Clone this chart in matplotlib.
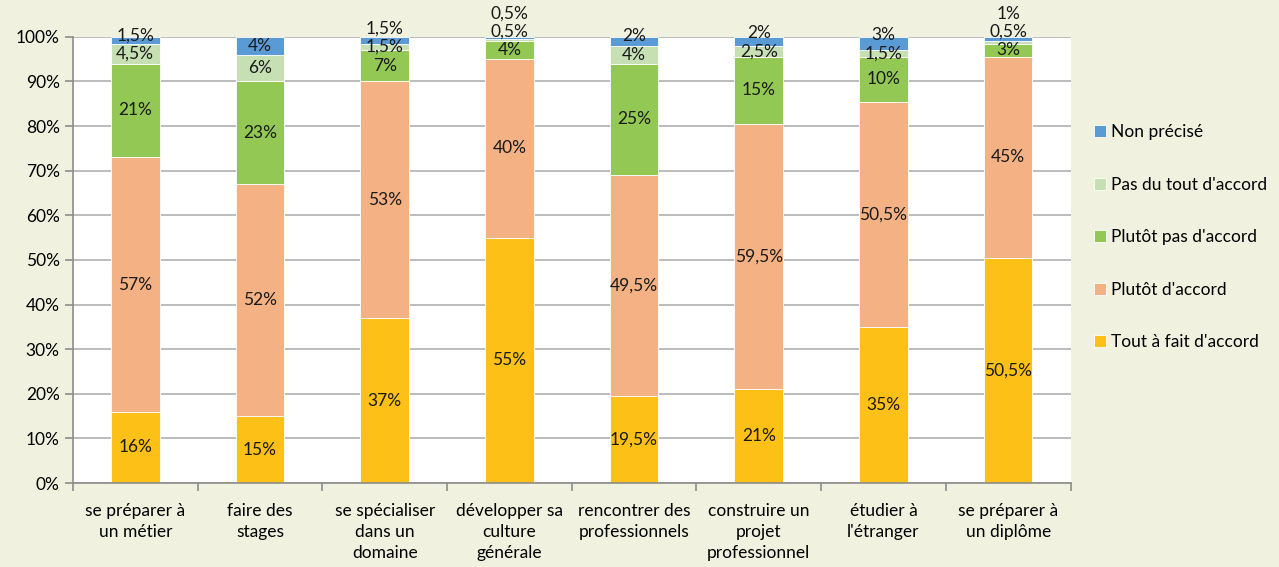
import matplotlib.pyplot as plt
import numpy as np

categories = ["se préparer à\nun métier", "faire des\nstages", "se spécialiser\ndans un\ndomaine",
              "développer sa\nculture\ngénérale", "rencontrer des\nprofessionnels",
              "construire un\nprojet\nprofessionnel", "étudier à\nl'étranger", "se préparer à\nun diplôme"]

tout_a_fait = [16, 15, 37, 55, 19.5, 21, 35, 50.5]
plutot_accord = [57, 52, 53, 40, 49.5, 59.5, 50.5, 45]
plutot_pas = [21, 23, 7, 4, 25, 15, 10, 3]
pas_du_tout = [4.5, 6, 1.5, 0.5, 4, 2.5, 1.5, 0.5]
non_precise = [1.5, 4, 1.5, 0.5, 2, 2, 3, 1]

series = [
    ("Tout à fait d'accord", tout_a_fait, "#FCC016"),
    ("Plutôt d'accord", plutot_accord, "#F4B183"),
    ("Plutôt pas d'accord", plutot_pas, "#92C853"),
    ("Pas du tout d'accord", pas_du_tout, "#C6E0B4"),
    ("Non précisé", non_precise, "#5B9BD5"),
]

plt.rcParams['font.family'] = ['Lato', 'DejaVu Sans']
bg = "#F0F2DF"

fig = plt.figure(figsize=(12.79, 5.67), dpi=100, facecolor=bg)
ax = fig.add_axes([0.057, 0.148, 0.78, 0.787])
ax.set_facecolor("white")

x = np.arange(len(categories))
bottom = np.zeros(len(categories))
label_pos = [[] for _ in categories]
for name, vals, col in series:
    vals = np.array(vals, dtype=float)
    ax.bar(x, vals, 0.39, bottom=bottom, color=col, edgecolor="white", linewidth=0.6,
           label=name, zorder=2)
    for i, v in enumerate(vals):
        label_pos[i].append((bottom[i] + v / 2, v))
    bottom += vals

# simple spreading of labels so small segments don't overlap
gap = 4.1
for i, items in enumerate(label_pos):
    prev = -100
    for y, v in items:
        y = max(y, prev + gap)
        txt = f"{v:g}".replace(".", ",") + "%"
        ax.text(x[i], y, txt, ha="center", va="center", fontsize=12.5, color="#1a1a1a",
                zorder=3, clip_on=False)
        prev = y

ax.set_ylim(0, 100)
ax.set_xlim(-0.5, len(categories) - 0.5)
ax.set_yticks(range(0, 101, 10))
ax.set_yticklabels([f"{t}%" for t in range(0, 101, 10)], fontsize=12.5)
ax.yaxis.grid(True, color="#B0B0B0", linewidth=1.2, zorder=0)
ax.set_axisbelow(True)

ax.set_xticks(x)
ax.set_xticklabels(categories, fontsize=12.5, linespacing=1.4)
ax.tick_params(axis="x", length=0, pad=14)
ax.set_xticks(np.arange(-0.5, len(categories), 1), minor=True)
ax.tick_params(axis="x", which="minor", length=6, color="#8C8C8C", width=1.2)
ax.tick_params(axis="y", length=6, color="#8C8C8C", width=1.2)

for s in ["top", "right"]:
    ax.spines[s].set_visible(False)
for s in ["left", "bottom"]:
    ax.spines[s].set_color("#8C8C8C")
    ax.spines[s].set_linewidth(1.2)

handles, labels = ax.get_legend_handles_labels()
fig.legend(handles[::-1], labels[::-1], loc="upper left", bbox_to_anchor=(0.843, 0.808),
           frameon=False, fontsize=12.5, labelspacing=2.1, handlelength=0.7, handleheight=0.7,
           handletextpad=0.3)

fig.savefig("out.png", dpi=100, facecolor=bg)
